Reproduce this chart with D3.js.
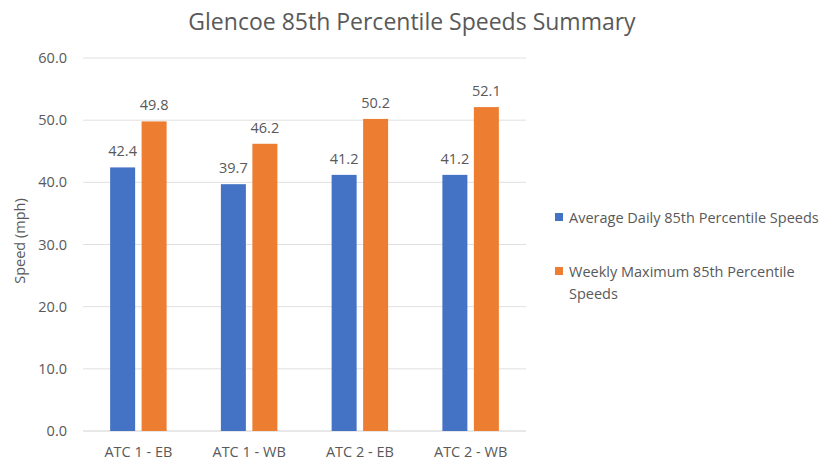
<!DOCTYPE html>
<html>
<head>
<meta charset="utf-8">
<script src="https://cdn.jsdelivr.net/npm/d3@7"></script>
<style>
    body { margin: 0; background: #fff; }
    text { font-family: "Open Sans", "Noto Sans", sans-serif; fill: #595959; }
</style>
</head>
<body>
<script>
(function(){

    //chart data
    var categories = ["ATC 1 - EB", "ATC 1 - WB", "ATC 2 - EB", "ATC 2 - WB"];
    var seriesNames = ["Average Daily 85th Percentile Speeds", "Weekly Maximum 85th Percentile Speeds"];
    var avgDaily = [42.4, 39.7, 41.2, 41.2];
    var weeklyMax = [49.8, 46.2, 50.2, 52.1];
    var yTicks = [0, 10, 20, 30, 40, 50, 60];
    var colors = ["#4472C4", "#ED7D31"];

    window.onload = setChart();

    function setChart(){
        var width = 832,
            height = 465,
            plotLeft = 83,
            plotRight = 526,
            plotTop = 58,
            plotBottom = 431;

        var svg = d3.select("body")
            .append("svg")
            .attr("width", width)
            .attr("height", height);

        //scales
        var yScale = d3.scaleLinear()
            .domain([0, 60])
            .range([plotBottom, plotTop]);

        var x0 = d3.scaleBand()
            .domain(categories)
            .range([plotLeft, plotRight])
            .paddingInner(0.49)
            .paddingOuter(0.245);

        var x1 = d3.scaleBand()
            .domain([0, 1])
            .range([0, x0.bandwidth()])
            .paddingInner(0.206);

        //gridlines
        svg.selectAll(".grid")
            .data(yTicks)
            .enter()
            .append("line")
            .attr("class", "grid")
            .attr("x1", plotLeft)
            .attr("x2", plotRight)
            .attr("y1", function(d){ return yScale(d); })
            .attr("y2", function(d){ return yScale(d); })
            .style("stroke", function(d){ return d == 0 ? "#d0d0d0" : "#e0e0e0"; })
            .style("stroke-width", 1);

        //y axis labels
        var yAxis = svg.append("g")
            .attr("transform", "translate(" + (plotLeft - 16) + ",0)")
            .call(d3.axisLeft(yScale).tickValues(yTicks).tickSize(0).tickFormat(d3.format(".1f")));
        yAxis.select(".domain").remove();
        yAxis.selectAll("text")
            .attr("x", 0)
            .style("font-size", "14.5px")
            .style("font-family", "'Open Sans', sans-serif")
            .style("fill", "#595959");

        //x axis labels
        var xAxis = svg.append("g")
            .attr("transform", "translate(0," + plotBottom + ")")
            .call(d3.axisBottom(x0).tickSize(0));
        xAxis.select(".domain").remove();
        xAxis.selectAll("text")
            .attr("y", 16)
            .style("font-size", "14.5px")
            .style("font-family", "'Open Sans', sans-serif")
            .style("fill", "#595959");

        //bars
        var rows = categories.map(function(c, i){
            return { cat: c, vals: [avgDaily[i], weeklyMax[i]] };
        });

        var groups = svg.selectAll(".group")
            .data(rows)
            .enter()
            .append("g")
            .attr("class", "group")
            .attr("transform", function(d){ return "translate(" + x0(d.cat) + ",0)"; });

        groups.selectAll("rect")
            .data(function(d){ return d.vals; })
            .enter()
            .append("rect")
            .attr("x", function(d, i){ return x1(i); })
            .attr("width", x1.bandwidth())
            .attr("y", function(d){ return yScale(d); })
            .attr("height", function(d){ return plotBottom - yScale(d); })
            .style("fill", function(d, i){ return colors[i]; });

        groups.selectAll(".label")
            .data(function(d){ return d.vals; })
            .enter()
            .append("text")
            .attr("class", "label")
            .attr("text-anchor", "middle")
            .attr("x", function(d, i){ return x1(i) + x1.bandwidth() / 2; })
            .attr("y", function(d){ return yScale(d) - 11; })
            .style("font-size", "14.5px")
            .text(function(d){ return d.toFixed(1); });

        //title
        svg.append("text")
            .attr("x", 412)
            .attr("y", 30)
            .attr("text-anchor", "middle")
            .style("font-size", "23px")
            .text("Glencoe 85th Percentile Speeds Summary");

        //y axis title
        svg.append("text")
            .attr("transform", "translate(25,241) rotate(-90)")
            .attr("text-anchor", "middle")
            .style("font-size", "14.5px")
            .text("Speed (mph)");

        //legend
        var legendLines = [["Average Daily 85th Percentile Speeds"], ["Weekly Maximum 85th Percentile", "Speeds"]];
        var legendY = [223, 277];
        legendLines.forEach(function(lines, i){
            svg.append("rect")
                .attr("x", 555)
                .attr("y", legendY[i] - 10)
                .attr("width", 8)
                .attr("height", 8)
                .style("fill", colors[i]);
            var t = svg.append("text")
                .attr("x", 569)
                .attr("y", legendY[i])
                .style("font-size", "14.5px");
            lines.forEach(function(l, j){
                t.append("tspan")
                    .attr("x", 569)
                    .attr("dy", j == 0 ? 0 : 22)
                    .text(l);
            });
        });
    };

})();
</script>
</body>
</html>
